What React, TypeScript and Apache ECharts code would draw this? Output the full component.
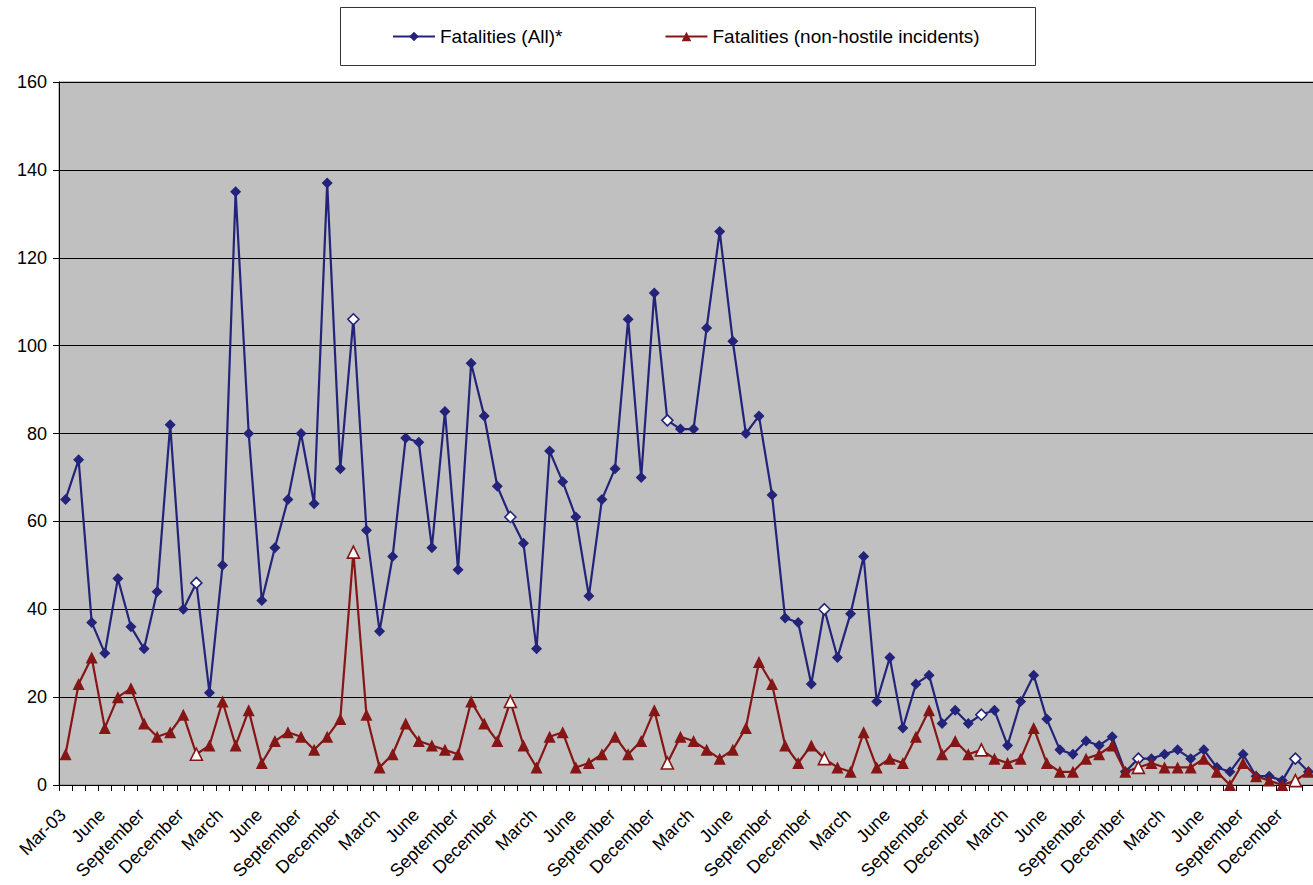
import React, { useEffect, useRef } from "react";
import * as echarts from "echarts";

const monthNames = [
  "January", "February", "March", "April", "May", "June",
  "July", "August", "September", "October", "November", "December",
];

// Mar 2003 .. Feb 2011 (96 months)
const categories: string[] = Array.from({ length: 96 }, (_, i) =>
  i === 0 ? "Mar-03" : monthNames[(i + 2) % 12]
);

const fatalitiesAll = [
  65, 74, 37, 30, 47, 36, 31, 44, 82, 40,
  46, 21, 50, 135, 80, 42, 54, 65, 80, 64,
  137, 72, 106, 58, 35, 52, 79, 78, 54, 85,
  49, 96, 84, 68, 61, 55, 31, 76, 69, 61,
  43, 65, 72, 106, 70, 112, 83, 81, 81, 104,
  126, 101, 80, 84, 66, 38, 37, 23, 40, 29,
  39, 52, 19, 29, 13, 23, 25, 14, 17, 14,
  16, 17, 9, 19, 25, 15, 8, 7, 10, 9,
  11, 3, 6, 6, 7, 8, 6, 8, 4, 3,
  7, 2, 2, 1, 6, 3,
];

const fatalitiesNonHostile = [
  7, 23, 29, 13, 20, 22, 14, 11, 12, 16,
  7, 9, 19, 9, 17, 5, 10, 12, 11, 8,
  11, 15, 53, 16, 4, 7, 14, 10, 9, 8,
  7, 19, 14, 10, 19, 9, 4, 11, 12, 4,
  5, 7, 11, 7, 10, 17, 5, 11, 10, 8,
  6, 8, 13, 28, 23, 9, 5, 9, 6, 4,
  3, 12, 4, 6, 5, 11, 17, 7, 10, 7,
  8, 6, 5, 6, 13, 5, 3, 3, 6, 7,
  9, 3, 4, 5, 4, 4, 4, 6, 3, 0,
  5, 2, 1, 0, 1, 3,
];

const seriesNames = ["Fatalities (All)*", "Fatalities (non-hostile incidents)"];

const BLUE = "#23237A";
const RED = "#861515";
const FONT = "'Liberation Sans', Arial, sans-serif";

function buildData(values: number[], color: string) {
  return values.map((v, i) =>
    categories[i] === "January"
      ? { value: v, itemStyle: { color: "#ffffff", borderColor: color, borderWidth: 1.6 } }
      : { value: v }
  );
}

export default function App() {
  const ref = useRef<HTMLDivElement>(null);

  useEffect(() => {
    if (!ref.current) return;
    const chart = echarts.init(ref.current, null, { renderer: "svg" });
    chart.setOption({
      animation: false,
      backgroundColor: "#ffffff",
      textStyle: { fontFamily: FONT },
      graphic: [
        {
          type: "rect",
          z: 0,
          shape: { x: 340.5, y: 7.5, width: 695, height: 58 },
          style: { fill: "#ffffff", stroke: "#333333", lineWidth: 1 },
        },
      ],
      legend: {
        data: seriesNames,
        left: 392,
        top: 27,
        itemWidth: 42,
        itemHeight: 12,
        itemGap: 102,
        padding: 0,
        textStyle: { fontSize: 19, color: "#000", fontFamily: FONT },
        z: 5,
      },
      grid: {
        left: 59,
        top: 82,
        right: -2,
        bottom: 100,
        containLabel: false,
        outerBoundsMode: "none",
        show: true,
        backgroundColor: "#C0C0C0",
        borderColor: "#808080",
        borderWidth: 1,
      },
      xAxis: {
        type: "category",
        data: categories,
        boundaryGap: true,
        axisLine: { lineStyle: { color: "#000", width: 1 } },
        axisTick: { show: true, interval: 0, length: 6, lineStyle: { color: "#000" } },
        axisLabel: {
          interval: 2,
          rotate: 45,
          fontSize: 18,
          color: "#000",
          margin: 24,
          padding: [0, 4, 0, 0],
          fontFamily: FONT,
        },
        splitLine: { show: false },
      },
      yAxis: {
        type: "value",
        min: 0,
        max: 160,
        interval: 20,
        axisLine: { show: true, lineStyle: { color: "#000", width: 1 } },
        axisTick: { show: true, length: 6, lineStyle: { color: "#000" } },
        axisLabel: { fontSize: 18, color: "#000", margin: 12, fontFamily: FONT },
        splitLine: { show: true, lineStyle: { color: "#000", width: 1 } },
      },
      series: [
        {
          name: seriesNames[0],
          type: "line",
          data: buildData(fatalitiesAll, BLUE),
          symbol: "diamond",
          symbolSize: 11,
          showAllSymbol: true,
          lineStyle: { color: BLUE, width: 2.2 },
          itemStyle: { color: BLUE },
          z: 3,
        },
        {
          name: seriesNames[1],
          type: "line",
          data: buildData(fatalitiesNonHostile, RED),
          symbol: "triangle",
          symbolSize: 12,
          showAllSymbol: true,
          lineStyle: { color: RED, width: 2.2 },
          itemStyle: { color: RED },
          z: 4,
        },
      ],
    });
    return () => chart.dispose();
  }, []);

  return (
    <div
      ref={ref}
      style={{ position: "fixed", left: 0, top: 0, width: 1313, height: 885 }}
    />
  );
}
